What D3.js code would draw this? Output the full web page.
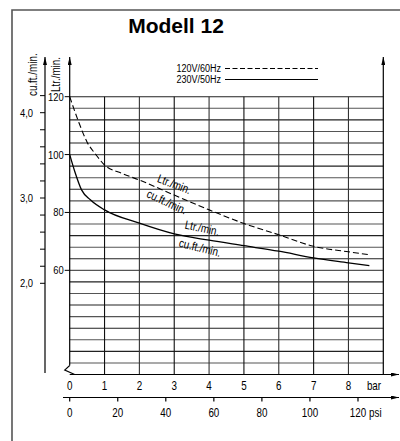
<!DOCTYPE html>
<html><head><meta charset="utf-8">
<script src="https://cdn.jsdelivr.net/npm/d3@7"></script>
<style>
html,body{margin:0;padding:0;background:#fff;}
svg{display:block;background:#fff;}
.n{font-family:"Liberation Sans Narrow","Liberation Sans",Arial,sans-serif;fill:#000;}
</style></head><body>
<svg id="c" width="400" height="441"></svg>
<script>
// ---- data ----
const title = "Modell 12";
const barTicks = [0,1,2,3,4,5,6,7,8];
const psiTicks = [0,20,40,60,80,100,120];
const ltrLabels = [60,80,100,120];
const gridLtr = [24,28,32,36,40,44,48,52,56,60,64,68,72,76,80,84,88,92,96,100,104,108,112,116,120];
const cfmTicks = [2.0,2.2,2.4,2.6,2.8,3.0,3.2,3.4,3.6,3.8,4.0,4.2];
const cfmLabels = [2,3,4];
const seriesNames = ["120V/60Hz","230V/50Hz"];
const pressure60 = [0,0.25,0.5,0.75,1,1.5,2,3,4,5,6,7,8,8.6];
const flow60 = [120,111.5,104.3,100,96.4,93.5,91.2,86,80.9,76.2,72.3,68.3,66.4,65.4];
const pressure50 = [0,0.15,0.34,0.6,1,2,3,4,5,6,7,8,8.6];
const flow50 = [100,94,87.8,84.3,80.9,76.3,72.6,70.4,68.5,66.6,64.3,62.6,61.6];
const unitLtr = "Ltr./min.";
const unitCfm = "cu.ft./min.";
const PSI_PER_BAR = 14.5038;

// ---- scales ----
const svg = d3.select("#c");
const x = d3.scaleLinear().domain([0,9]).range([69.7,383.3]);
const xp = d3.scaleLinear().domain([0,9*PSI_PER_BAR]).range([69.7,383.3]);
const y = d3.scaleLinear().domain([24,120]).range([374.5,96.7]);
const yc = d3.scaleLinear().domain([2,4]).range([283.3,112.7]);

// narrow text helper (Liberation Sans compressed horizontally)
const NARROW = 0.82;
function ntext(px, py, str, size, anchor, rot, dy){
  return svg.append("text").attr("class","n")
    .attr("transform",`translate(${px},${py}) rotate(${rot||0}) scale(${NARROW},1)`)
    .attr("text-anchor",anchor||"start").attr("dy",dy||null)
    .style("font-size",size+"px").text(str);
}

const defs = svg.append("defs");
defs.append("marker").attr("id","arr").attr("viewBox","0 0 8 4").attr("refX",8).attr("refY",2)
  .attr("markerWidth",8).attr("markerHeight",4).attr("markerUnits","userSpaceOnUse").attr("orient","auto")
  .append("path").attr("d","M0,0L8,2L0,4Z").attr("fill","#000");

// outer frame
svg.append("path").attr("d","M12,441V10H400").attr("fill","none").attr("stroke","#555").attr("stroke-width",1.6);

// title
svg.append("text").attr("x",176).attr("y",33).attr("text-anchor","middle")
  .style("font-family","'Liberation Sans',Arial,sans-serif").style("font-weight","bold").style("font-size","21px")
  .text(title);

// grid horizontal
const x0 = x(0), x9 = x(9);
svg.append("g").selectAll("line").data(gridLtr.filter(v=>v>24)).join("line")
  .attr("x1",x0).attr("x2",x9).attr("y1",d=>y(d)).attr("y2",d=>y(d))
  .attr("stroke",(d,i)=>i%2?"#222":"#555").attr("stroke-width",1.1);
// grid vertical
svg.append("g").selectAll("line").data(barTicks.filter(b=>b>0)).join("line")
  .attr("x1",d=>x(d)).attr("x2",d=>x(d)).attr("y1",y(24)).attr("y2",y(120))
  .attr("stroke",(d,i)=>i%2?"#333":"#111").attr("stroke-width",1.1);
// left (bar 0) axis with arrow and break
const yb = y(24);
svg.append("line").attr("x1",x0).attr("x2",x0).attr("y1",yb-9).attr("y2",57)
  .attr("stroke","#000").attr("stroke-width",1.2).attr("marker-end","url(#arr)");
svg.append("path").attr("d",`M${x0},${yb-9}L${x0-5},${yb-4.5}L${x0+5},${yb}`)
  .attr("fill","none").attr("stroke","#000").attr("stroke-width",1.1);
// right (bar 9) line with arrow
svg.append("line").attr("x1",x9).attr("x2",x9).attr("y1",yb).attr("y2",57)
  .attr("stroke","#000").attr("stroke-width",1.2).attr("marker-end","url(#arr)");
// bar axis (bottom grid line) with arrow
svg.append("line").attr("x1",x0).attr("x2",399).attr("y1",yb).attr("y2",yb)
  .attr("stroke","#000").attr("stroke-width",1.2).attr("marker-end","url(#arr)");

// Ltr labels + ticks
svg.append("g").selectAll("line").data(ltrLabels).join("line")
  .attr("x1",x0-5).attr("x2",x0).attr("y1",d=>y(d)).attr("y2",d=>y(d)).attr("stroke","#000");
ltrLabels.forEach(d=>ntext(x0-6, y(d), String(d), 11.5, "end", 0, "0.35em"));

// cfm axis
const xc = 45;
svg.append("line").attr("x1",xc).attr("x2",xc).attr("y1",373).attr("y2",57)
  .attr("stroke","#000").attr("stroke-width",1.2).attr("marker-end","url(#arr)");
svg.append("g").selectAll("line").data(cfmTicks).join("line")
  .attr("x1",xc-5).attr("x2",xc).attr("y1",d=>yc(d)).attr("y2",d=>yc(d)).attr("stroke","#000");
cfmLabels.forEach(d=>ntext(xc-12, yc(d), d.toFixed(1).replace(".",","), 11.5, "end", 0, "0.35em"));

// axis titles
ntext(37, 96, unitCfm, 12, "start", -90);
ntext(60, 92, unitLtr, 12, "start", -90);

// legend
const legY = [68.5,79.5];
seriesNames.forEach((s,i)=>{
  ntext(221, legY[i]+3.5, s, 11, "end", 0);
  svg.append("line").attr("x1",225).attr("x2",318).attr("y1",legY[i]).attr("y2",legY[i])
    .attr("stroke","#000").attr("stroke-width",1).attr("stroke-dasharray",i===0?"5,2.5":null);
});

// bar labels
barTicks.forEach(d=>ntext(x(d), 390, String(d), 12, "middle", 0));
ntext(374, 390, "bar", 12, "middle", 0);

// psi axis
svg.append("line").attr("x1",63).attr("x2",399).attr("y1",397.5).attr("y2",397.5)
  .attr("stroke","#000").attr("stroke-width",1.2).attr("marker-end","url(#arr)");
svg.append("g").selectAll("line").data(psiTicks).join("line")
  .attr("x1",d=>xp(d)).attr("x2",d=>xp(d)).attr("y1",397.5).attr("y2",401.5).attr("stroke","#000").attr("stroke-width",1.2);
psiTicks.forEach(d=>ntext(xp(d), 417, String(d), 12, "middle", 0));
ntext(xp(120)+11, 417, "psi", 12, "start", 0);

// curves
const line = d3.line().x(d=>x(d[0])).y(d=>y(d[1])).curve(d3.curveMonotoneX);
const s60 = pressure60.map((p,i)=>[p,flow60[i]]);
const s50 = pressure50.map((p,i)=>[p,flow50[i]]);
svg.append("path").attr("d",line(s60)).attr("fill","none").attr("stroke","#000")
  .attr("stroke-width",1.1).attr("stroke-dasharray","6,3");
svg.append("path").attr("d",line(s50)).attr("fill","none").attr("stroke","#000").attr("stroke-width",1.3);

// curve labels
function flowAt(P,F,b){ for(let i=1;i<P.length;i++){ if(b<=P[i]){ const t=(b-P[i-1])/(P[i]-P[i-1]); return F[i-1]+t*(F[i]-F[i-1]); } } return F[F.length-1]; }
const labs = [
  {t:unitLtr, P:pressure60, F:flow60, b:3.0, off:-11, r:21},
  {t:unitCfm, P:pressure60, F:flow60, b:2.79, off:10, r:25},
  {t:unitLtr, P:pressure50, F:flow50, b:3.8, off:-11, r:12},
  {t:unitCfm, P:pressure50, F:flow50, b:3.74, off:9, r:14}
];
labs.forEach(l=>{
  ntext(x(l.b), y(flowAt(l.P,l.F,l.b)) + l.off, l.t, 12, "middle", l.r, "0.35em");
});
</script>
</body></html>
